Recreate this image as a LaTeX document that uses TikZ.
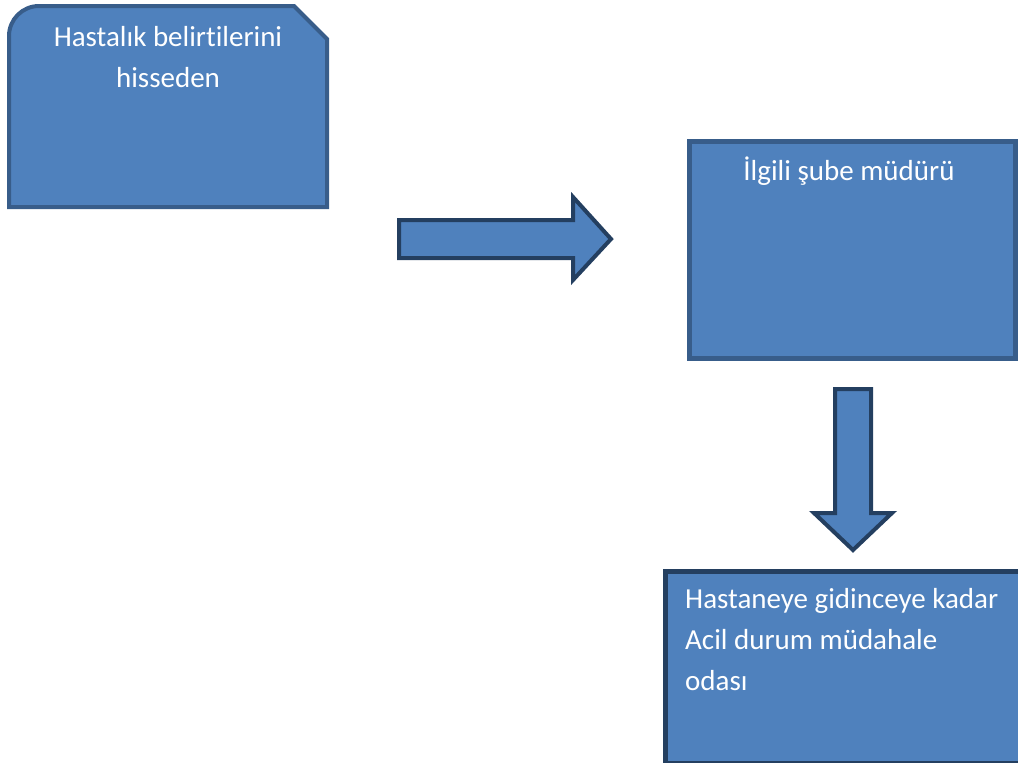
\documentclass[tikz,border=0pt]{standalone}
\usepackage{fontspec}
\setmainfont{Carlito}[Ligatures=NoCommon]
\definecolor{fillblue}{HTML}{4F81BD}
\definecolor{edgeblue}{HTML}{385D8A}
\definecolor{darkedge}{HTML}{243F60}
\begin{document}
\begin{tikzpicture}[x=1pt,y=-1pt,
  txt/.style={text=white,inner sep=0pt,font=\fontsize{29}{41}\selectfont},
  shapebox/.style={fill=fillblue,draw=edgeblue,line width=4pt},
  darkbox/.style={fill=fillblue,draw=darkedge,line width=5pt},
  blockarrow/.style={fill=fillblue,draw=darkedge,line width=4pt,line join=miter}]
\useasboundingbox (0,0) rectangle (1018,763);
\clip (0,0) rectangle (1018,763);
% box 1 (rounded / snipped corners)
\draw[shapebox] (9,207) [rounded corners=30pt] -- (9,6) [sharp corners] -- (294,6) -- (327,39) -- (327,207) -- cycle;
\node[txt,align=center,anchor=base] (t1) at (168,87) {Hastalık belirtilerini\\hisseden};
% right arrow
\draw[blockarrow] (399,220) -- (573,220) -- (573,197) -- (611,239) -- (573,280) -- (573,258) -- (399,258) -- cycle;
% box 2
\node[darkbox,draw=edgeblue,anchor=north west,minimum width=326pt,minimum height=217pt,inner sep=0pt] (b2) at (687,138.5) {};
\node[txt,anchor=base] (t2) at (849,180) {İlgili şube müdürü};
% down arrow
\draw[blockarrow] (835,389) -- (871,389) -- (871,513) -- (892,513) -- (853,550) -- (814,513) -- (835,513) -- cycle;
% box 3
\node[darkbox,anchor=north west,minimum width=380pt,minimum height=192pt,inner sep=0pt] (b3) at (662.5,568.5) {};
\node[txt,align=left,anchor=base west] (t3) at (685,690) {Hastaneye gidinceye kadar\\Acil durum müdahale\\odası};
\end{tikzpicture}
\end{document}
